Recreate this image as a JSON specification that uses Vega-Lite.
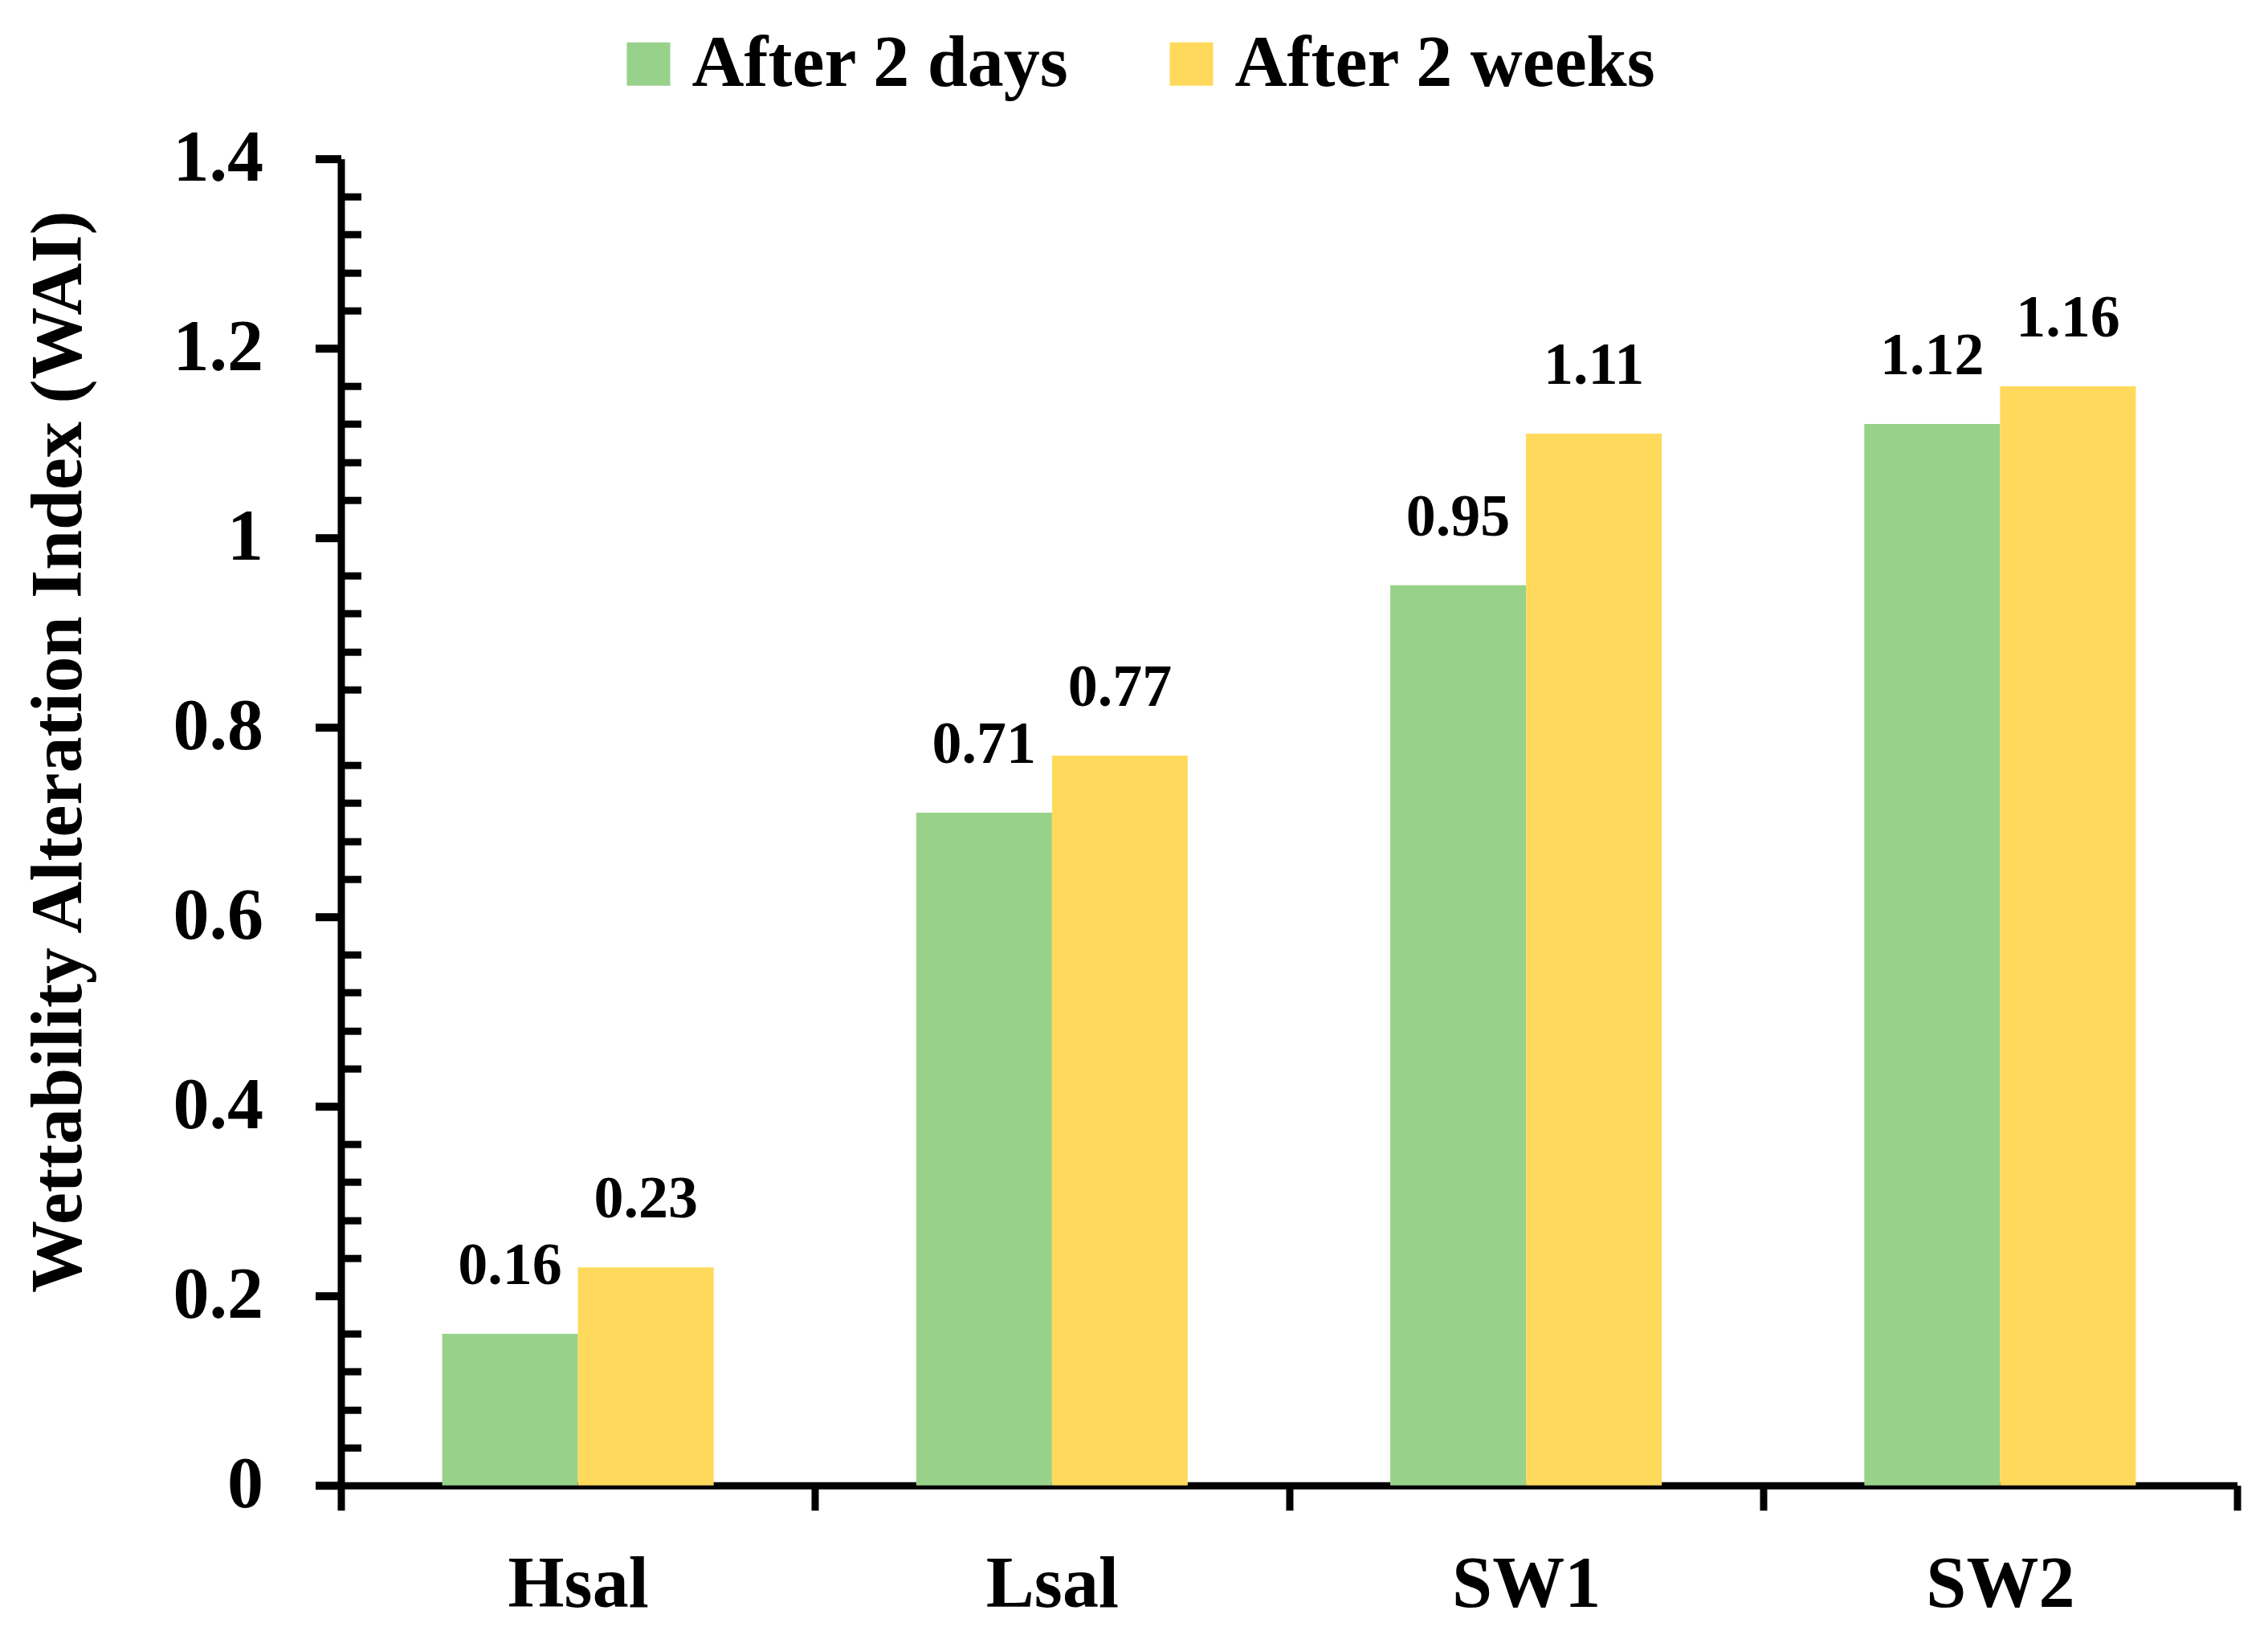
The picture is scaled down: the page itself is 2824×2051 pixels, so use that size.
{
  "$schema": "https://vega.github.io/schema/vega-lite/v6.json",
  "width": 2361,
  "height": 1652,
  "autosize": {"type": "none"},
  "padding": {"left": 424.5, "top": 197.7, "right": 38.5, "bottom": 201.3},
  "background": "white",
  "config": {"view": {"stroke": null}, "font": "Liberation Serif"},
  "data": {
    "values": [
      {"category": "Hsal", "series": "After 2 days", "value": 0.16},
      {"category": "Hsal", "series": "After 2 weeks", "value": 0.23},
      {"category": "Lsal", "series": "After 2 days", "value": 0.71},
      {"category": "Lsal", "series": "After 2 weeks", "value": 0.77},
      {"category": "SW1", "series": "After 2 days", "value": 0.95},
      {"category": "SW1", "series": "After 2 weeks", "value": 1.11},
      {"category": "SW2", "series": "After 2 days", "value": 1.12},
      {"category": "SW2", "series": "After 2 weeks", "value": 1.16}
    ]
  },
  "encoding": {
    "x": {
      "field": "category", "type": "nominal", "sort": ["Hsal", "Lsal", "SW1", "SW2"],
      "scale": {"paddingInner": 0, "paddingOuter": 0},
      "axis": {
        "title": null, "labelAngle": 0, "labelFont": "Liberation Serif", "labelFontSize": 90,
        "labelFontWeight": "bold", "labelColor": "black", "labelPadding": 49, "labelLimit": 1000,
        "tickBand": "extent", "tickSize": 31, "tickWidth": 9, "tickColor": "black",
        "domainWidth": 9, "domainColor": "black", "grid": false
      }
    },
    "xOffset": {
      "field": "series", "type": "nominal", "sort": ["After 2 days", "After 2 weeks"],
      "scale": {"paddingInner": 0, "paddingOuter": 0.746}
    }
  },
  "layer": [
    {
      "mark": {"type": "bar"},
      "encoding": {
        "y": {
          "field": "value", "type": "quantitative",
          "scale": {"domain": [0, 1.4], "nice": false},
          "axis": {
            "orient": "left",
            "title": "Wettability Alteration Index (WAI)",
            "titleFont": "Liberation Serif", "titleFontSize": 90, "titleFontWeight": "bold", "titleColor": "black",
            "titleAngle": -90, "titleX": -351, "titleY": 738, "titleAlign": "center", "titleBaseline": "middle",
            "values": [0, 0.2, 0.4, 0.6, 0.8, 1, 1.2, 1.4], "format": "~g",
            "labelFont": "Liberation Serif", "labelFontSize": 90, "labelFontWeight": "bold", "labelColor": "black",
            "labelPadding": 65, "tickSize": 32, "tickWidth": 10, "tickColor": "black",
            "domainWidth": 9, "domainColor": "black", "grid": false
          }
        },
        "color": {
          "field": "series", "type": "nominal", "sort": ["After 2 days", "After 2 weeks"],
          "scale": {"range": ["#98d28a", "#ffd95c"]},
          "legend": {
            "title": null, "orient": "none", "direction": "horizontal", "legendX": 338, "legendY": -163,
            "symbolType": "square", "symbolSize": 2916, "symbolStrokeWidth": 0, "symbolOpacity": 1,
            "labelFont": "Liberation Serif", "labelFontSize": 90, "labelFontWeight": "bold", "labelColor": "black",
            "labelOffset": 9, "columnPadding": 107, "labelLimit": 1000
          }
        }
      }
    },
    {
      "mark": {"type": "text", "font": "Liberation Serif", "fontSize": 74, "fontWeight": "bold", "color": "black", "baseline": "alphabetic", "dy": -62},
      "encoding": {
        "y": {
          "field": "value", "type": "quantitative",
          "scale": {"domain": [0, 1.4], "nice": false},
          "axis": {
            "orient": "left", "title": null, "labels": false, "domain": false, "grid": false,
            "values": [0.04, 0.08, 0.12, 0.16, 0.24, 0.28, 0.32, 0.36, 0.44, 0.48, 0.52, 0.56, 0.64, 0.68, 0.72, 0.76, 0.84, 0.88, 0.92, 0.96, 1.04, 1.08, 1.12, 1.16, 1.24, 1.28, 1.32, 1.36],
            "tickSize": -25, "tickWidth": 9, "tickColor": "black"
          }
        },
        "text": {"field": "value", "type": "quantitative", "format": ".2f"}
      }
    }
  ],
  "resolve": {"axis": {"y": "independent"}}
}
